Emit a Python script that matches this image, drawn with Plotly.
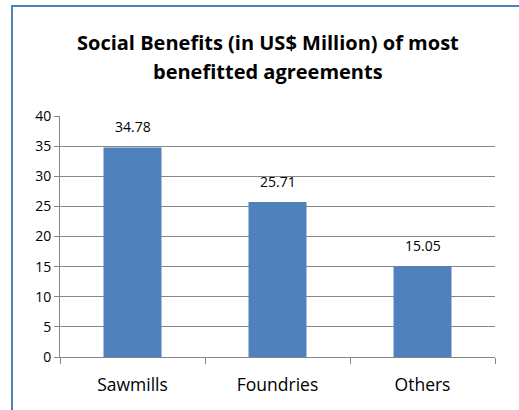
import plotly.graph_objects as go

# Social benefits per agreement, US$ million
categories = ["Sawmills", "Foundries", "Others"]
benefits = [34.78, 25.71, 15.05]
y_ticks = [0, 5, 10, 15, 20, 25, 30, 35, 40]
title_lines = ["Social Benefits (in US$ Million) of most", "benefitted agreements"]

W, H = 519, 410
L, R, T, B = 60, 24, 116, 53
plot_w = W - L - R
plot_h = H - T - B


def px_x(px):
    """Pixel column -> paper x."""
    return (px - L) / plot_w


def px_y(py):
    """Pixel row (from top) -> paper y."""
    return (T + plot_h - py) / plot_h


grey = "#868686"
frame_blue = "#4F81BD"
font_family = "'Open Sans', 'Liberation Sans', sans-serif"

fig = go.Figure(
    go.Bar(
        x=categories,
        y=benefits,
        width=0.4,
        marker=dict(color="#4F81BD", line=dict(width=0)),
        hoverinfo="x+y",
    )
)

# value labels above each bar
for cat, val in zip(categories, benefits):
    fig.add_annotation(
        x=cat, y=val, text=f"{val:.2f}",
        showarrow=False, yanchor="bottom", yshift=9,
        font=dict(size=14, color="#000000", family=font_family),
    )

# two-line bold title
for line, cy in zip(title_lines, [43, 71]):
    fig.add_annotation(
        xref="paper", yref="paper",
        x=px_x(268), y=px_y(cy),
        xanchor="center", yanchor="middle",
        text=f"<b>{line}</b>", showarrow=False,
        font=dict(size=20, color="#000000", family=font_family),
    )

# outer chart frame: left and top edges (the others run off the page)
fig.add_shape(
    type="line", xref="paper", yref="paper",
    x0=px_x(12), x1=px_x(12), y0=px_y(H + 5), y1=px_y(6),
    line=dict(color=frame_blue, width=2), layer="above",
)
fig.add_shape(
    type="line", xref="paper", yref="paper",
    x0=px_x(11), x1=px_x(W + 5), y0=px_y(6), y1=px_y(6),
    line=dict(color=frame_blue, width=2), layer="above",
)

fig.update_layout(
    width=W, height=H,
    margin=dict(l=L, r=R, t=T, b=B),
    paper_bgcolor="white",
    plot_bgcolor="white",
    showlegend=False,
    bargap=0.6,
    xaxis=dict(
        type="category",
        range=[-0.5, 2.5],
        showline=True, linecolor=grey, linewidth=1,
        ticks="outside", tickson="boundaries", ticklen=6, tickcolor=grey,
        ticklabelstandoff=12,
        tickfont=dict(size=17.5, color="#000000", family=font_family),
        showgrid=False,
    ),
    yaxis=dict(
        range=[0, 40],
        tickvals=y_ticks,
        showline=True, linecolor=grey, linewidth=1,
        ticks="outside", ticklen=5, tickcolor=grey,
        showgrid=True, gridcolor=grey, gridwidth=1,
        zeroline=False,
        tickfont=dict(size=14, color="#000000", family=font_family),
    ),
)

fig.write_html("out.html")
